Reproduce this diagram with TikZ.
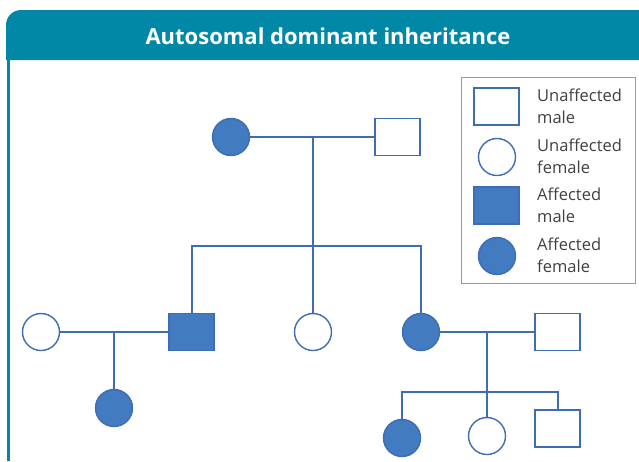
\documentclass[tikz,border=0pt]{standalone}
\usepackage{fontspec}
\setmainfont{Open Sans}
\usetikzlibrary{positioning,calc}

\definecolor{hdrteal}{HTML}{0088A6}
\definecolor{pedblue}{HTML}{427BBF}
\definecolor{pedline}{HTML}{3E6DB5}
\definecolor{legtext}{HTML}{404040}

\begin{document}
\begin{tikzpicture}[
    x=1pt, y=-1pt,
    male/.style={rectangle, draw=pedline, line width=1.4pt, fill=white,
                minimum width=45pt, minimum height=37pt, inner sep=0pt},
    female/.style={circle, draw=pedline, line width=1.4pt, fill=white,
                minimum size=37pt, inner sep=0pt},
    affmale/.style={male, fill=pedblue},
    afffemale/.style={female, fill=pedblue},
    link/.style={draw=pedline, line width=2pt},
    legtxt/.style={anchor=west, align=left, font=\fontsize{16.5}{22}\selectfont,
                text=legtext, inner sep=0pt},
]
\useasboundingbox (0,0) rectangle (639,461);

% --- Header ---
\fill[hdrteal] (6,60) -- (6,25) arc[start angle=180, end angle=270, radius=15]
  -- (650,10) -- (650,60) -- cycle;
\draw[hdrteal, line width=2.5pt] (8.5,60) -- (8.5,461);
\node[font=\fontsize{22}{24}\selectfont\bfseries, text=white] (title) at (328,36)
  {Autosomal dominant inheritance};

% --- Generation I ---
\node[afffemale] (gma) at (231,137) {};
\node[male] (gpa) at (397.5,137) {};
\draw[link] (gma) -- (gpa);
\coordinate (m1) at (313,137);
\coordinate (s1) at (313,246);
\draw[link] (m1) -- (s1);

% --- Generation II ---
\node[female] (wife) at (41,332) {};
\node[affmale] (son) at (191.5,332) {};
\node[female] (dau1) at (313,332) {};
\node[afffemale] (dau2) at (421,332) {};
\node[male] (hub) at (557.5,332) {};
\draw[link] (s1) -| (son);
\draw[link] (s1) -| (dau2);
\draw[link] (s1) -- (dau1);
\draw[link] (wife) -- (son);
\draw[link] (dau2) -- (hub);

% --- Generation III ---
\node[afffemale] (gdau1) at (114,408) {};
\coordinate (m2) at (114,332);
\draw[link] (m2) -- (gdau1);
\node[afffemale] (gdau2) at (402,438) {};
\node[female] (gdau3) at (487,436) {};
\node[male] (gson) at (557.5,428.5) {};
\coordinate (m3) at (487,332);
\coordinate (s3) at (487,392);
\draw[link] (m3) -- (s3);
\draw[link] (s3) -| (gdau2);
\draw[link] (s3) -- (gdau3);
\draw[link] (s3) -| (gson);

% --- Legend ---
\draw[gray!80, line width=1pt] (461,77) rectangle (635,283);
\node[male] (kum) at (496.5,106.5) {};
\node[female] (kuf) at (497,157) {};
\node[affmale] (kam) at (496.5,205.5) {};
\node[afffemale] (kaf) at (497,256) {};
\node[legtxt] at (537,106) {Unaffected\\male};
\node[legtxt] at (537,156) {Unaffected\\female};
\node[legtxt] at (537,205) {Affected\\male};
\node[legtxt] at (537,255) {Affected\\female};

\end{tikzpicture}
\end{document}
